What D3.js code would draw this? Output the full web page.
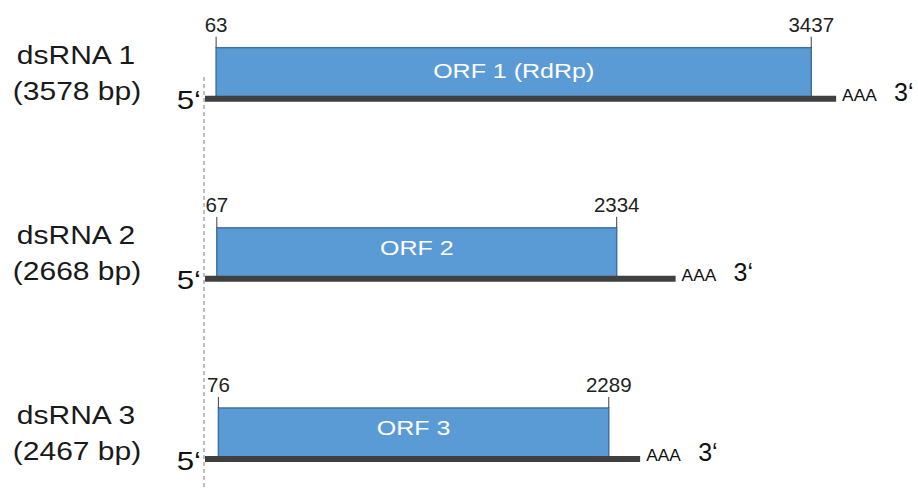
<!DOCTYPE html>
<html><head><meta charset="utf-8">
<script src="https://cdn.jsdelivr.net/npm/d3@7/dist/d3.min.js"></script>
<style>body{margin:0;background:#fff}svg{display:block;font-family:"Liberation Sans",Arial,sans-serif}</style>
</head><body><svg id="c" width="918" height="488"></svg>
<script>
const names = ["dsRNA 1", "dsRNA 2", "dsRNA 3"];
const lengths = [3578, 2668, 2467];
const orfNames = ["ORF 1 (RdRp)", "ORF 2", "ORF 3"];
const orfStarts = [63, 67, 76];
const orfEnds = [3437, 2334, 2289];
const polyA = "AAA";

const svg = d3.select("#c");
const x = d3.scaleLinear().domain([0, 3600]).range([205, 840]);
const y = d3.scalePoint().domain(names).range([98.7, 459]);
const stretch = 1.2;

const data = names.map((n, i) => ({name: n, len: lengths[i], orf: orfNames[i], s: orfStarts[i], e: orfEnds[i]}));

// dashed 5' reference line
svg.append("line").attr("x1", x(0) - 1).attr("x2", x(0) - 1).attr("y1", 77).attr("y2", 488)
  .attr("stroke", "#7f7f7f").attr("stroke-width", 1).attr("stroke-dasharray", "4,3");

const g = svg.selectAll("g.row").data(data).enter().append("g").attr("class", "row");

// ORF box
g.append("rect")
  .attr("x", d => x(d.s)).attr("width", d => x(d.e) - x(d.s))
  .attr("y", d => y(d.name) - 51).attr("height", 49)
  .attr("fill", "#5b9bd5").attr("stroke", "#41719c").attr("stroke-width", 1.5);

// genome line
g.append("line")
  .attr("x1", x(0)).attr("x2", d => x(d.len))
  .attr("y1", d => y(d.name)).attr("y2", d => y(d.name))
  .attr("stroke", "#404040").attr("stroke-width", 6);

// ticks + position labels
["s", "e"].forEach(k => {
  g.append("line")
    .attr("x1", d => x(d[k])).attr("x2", d => x(d[k]))
    .attr("y1", d => y(d.name) - 62).attr("y2", d => y(d.name) - 51)
    .attr("stroke", "#404040").attr("stroke-width", 1);
  g.append("text")
    .attr("x", d => x(d[k])).attr("y", d => y(d.name) - 67)
    .attr("text-anchor", "middle").attr("font-size", 20.5).attr("fill", "#222")
    .text(d => d[k]);
});

// ORF label (stretched)
g.append("text")
  .attr("transform", (d, i) => `translate(${(x(d.s) + x(d.e)) / 2},${y(d.name) - (i === 0 ? 20.5 : 24)}) scale(1.25,1)`)
  .attr("text-anchor", "middle").attr("font-size", 20).attr("fill", "#ffffff")
  .text(d => d.orf);

// left labels
g.append("text")
  .attr("transform", d => `translate(76,${y(d.name) - 35}) scale(${stretch},1)`)
  .attr("text-anchor", "middle").attr("font-size", 25).attr("fill", "#1a1a1a")
  .text(d => d.name);
g.append("text")
  .attr("transform", d => `translate(77,${y(d.name) + 1}) scale(${stretch},1)`)
  .attr("text-anchor", "middle").attr("font-size", 25).attr("fill", "#1a1a1a")
  .text(d => `(${d.len} bp)`);

// 5' label
g.append("text")
  .attr("transform", d => `translate(${x(0) - 4},${y(d.name) + 10.5}) scale(1.25,1)`)
  .attr("text-anchor", "end").attr("font-size", 25).attr("fill", "#111")
  .text("5\u2018");

// AAA and 3'
g.append("text")
  .attr("transform", d => `translate(${x(d.len) + 6},${y(d.name) + 2}) scale(1.05,1)`)
  .attr("font-size", 16.5).attr("fill", "#111")
  .text(polyA);
g.append("text")
  .attr("x", d => x(d.len) + 58).attr("y", d => y(d.name) + 2)
  .attr("font-size", 25).attr("fill", "#111")
  .text("3\u2018");
</script></body></html>
